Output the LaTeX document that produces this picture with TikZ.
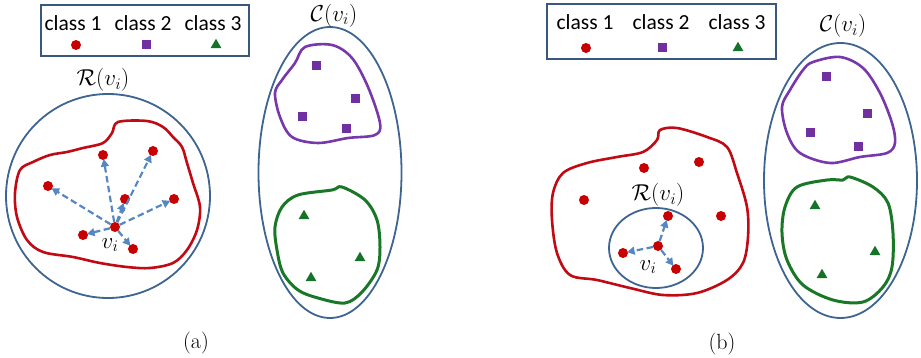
\RequirePackage{fix-cm}
\documentclass[tikz,border=0pt]{standalone}
\usepackage{fontspec}
\newfontfamily\legfont{Carlito}
\usetikzlibrary{shapes.geometric,arrows.meta}
\definecolor{outline}{RGB}{62,100,145}
\definecolor{legblue}{RGB}{58,88,125}
\definecolor{blobred}{RGB}{192,10,20}
\definecolor{dotred}{RGB}{200,0,0}
\definecolor{blobpurple}{RGB}{120,55,170}
\definecolor{sqpurple}{RGB}{112,48,160}
\definecolor{blobgreen}{RGB}{25,120,40}
\definecolor{trigreen}{RGB}{20,115,40}
\definecolor{arrowblue}{RGB}{85,135,195}
\tikzset{
  region/.style={draw=outline, line width=1.8pt},
  redline/.style={draw=blobred, line width=2.6pt, line join=round},
  purpleline/.style={draw=blobpurple, line width=2.6pt, line join=round},
  greenline/.style={draw=blobgreen, line width=3pt, line join=round},
  dot/.style={circle, fill=dotred, inner sep=0pt, minimum size=10pt},
  sq/.style={rectangle, fill=sqpurple, inner sep=0pt, minimum size=9pt},
  tri/.style={regular polygon, regular polygon sides=3, fill=trigreen, inner sep=0pt, minimum size=12.5pt},
  arr/.style={draw=arrowblue, line width=2.2pt, dash pattern=on 6.5pt off 3.5pt,
    -{Triangle[length=7.5pt,width=8pt]}, shorten >=-1pt},
  legbox/.style={draw=legblue, line width=2.5pt, rectangle, inner sep=0pt},
  legtext/.style={font=\legfont\fontsize{21.5}{25}\selectfont, inner sep=0pt},
  mathlab/.style={font=\fontsize{23}{27}\selectfont, inner sep=0pt},
  caplab/.style={font=\fontsize{22}{26}\selectfont, inner sep=0pt},
}
\begin{document}
\begin{tikzpicture}[x=1pt,y=-1pt]
\useasboundingbox (0,0) rectangle (921,358);

% ---------------- panel (a) ----------------
% legend
\node[legbox, minimum width=208pt, minimum height=51pt] (legA) at (145,30.5) {};
\node[legtext] (la1) at (73,23) {class 1};
\node[legtext] (la2) at (143,23) {class 2};
\node[legtext] (la3) at (213,23) {class 3};
\node[dot] (ma1) at (76,45) {};
\node[sq] (ma2) at (146,45) {};
\node[tri] (ma3) at (216,45) {};

% neighbourhood R(v_i)
\draw[region] (108,196) circle [radius=102];
\node[mathlab] (RA) at (103,80) {$\mathcal{R}(v_i)$};

% class-1 region
\draw[redline] plot[smooth cycle, tension=0.55] coordinates {
  (118,122) (147,121) (163,127) (173,137) (182,147) (187,163) (193,183)
  (200,207) (197,230) (187,250) (173,263) (150,268) (127,267) (100,263)
  (73,257) (43,252) (27,240) (17,217) (15,193) (20,170) (33,162) (50,155)
  (67,152) (83,148) (103,143) (112,133)};

\node[dot] (va) at (115,227) {};
\node[dot] (a1) at (103,155) {};
\node[dot] (a2) at (153,151) {};
\node[dot] (a3) at (48,186) {};
\node[dot] (a4) at (125,199) {};
\node[dot] (a5) at (174,199) {};
\node[dot] (a6) at (83,235) {};
\node[dot] (a7) at (133,249) {};
\foreach \t in {a1,a2,a3,a4,a5,a6,a7} \draw[arr] (va) -- (\t);
\node[mathlab] (viA) at (110,245) {$v_i$};

% candidate set C(v_i)
\draw[region] (330,172.5) ellipse [x radius=71.5, y radius=145.5];
\node[mathlab] (CA) at (334,15.5) {$\mathcal{C}(v_i)$};
\draw[purpleline] plot[smooth cycle, tension=0.55] coordinates {
  (305,47) (332,45) (352,58) (368,87) (380,123) (375,135) (348,138)
  (318,143) (292,137) (280,117) (275,93) (282,80) (295,63)};
\node[sq] (sa1) at (316,66) {};
\node[sq] (sa2) at (355,99) {};
\node[sq] (sa3) at (302,117) {};
\node[sq] (sa4) at (346,129) {};
\draw[greenline] plot[smooth cycle, tension=0.55] coordinates {
  (298,195) (332,190) (342,187) (365,200) (377,220) (380,247) (377,270)
  (362,292) (345,303) (318,298) (298,290) (283,273) (277,250) (275,227) (282,207)};
\node[tri] (ta1) at (304,216) {};
\node[tri] (ta2) at (360,258) {};
\node[tri] (ta3) at (311,278) {};

\node[caplab] (capA) at (196,343) {(a)};

% ---------------- panel (b) ----------------
\node[legbox, minimum width=229pt, minimum height=55pt] (legB) at (661.5,31.5) {};
\node[legtext] (lb1) at (585,22) {class 1};
\node[legtext] (lb2) at (661,22) {class 2};
\node[legtext] (lb3) at (737,22) {class 3};
\node[dot] (mb1) at (586,48) {};
\node[sq] (mb2) at (662,48) {};
\node[tri] (mb3) at (738,48) {};

% class-1 region
\draw[redline] plot[smooth cycle, tension=0.55] coordinates {
  (660,130) (677,128) (707,137) (727,147) (737,173) (747,207) (748,237)
  (743,263) (727,280) (697,293) (663,295) (630,288) (597,280) (570,275)
  (557,253) (552,220) (553,193) (563,173) (587,163) (617,157) (643,152) (657,140)};
\node[dot] (b1) at (644,168) {};
\node[dot] (b2) at (699,162) {};
\node[dot] (b3) at (584,200) {};
\node[dot] (b4) at (721,216) {};

% small neighbourhood R(v_i)
\draw[region] (656,248) ellipse [x radius=47, y radius=40];
\node[mathlab] (RB) at (658,195) {$\mathcal{R}(v_i)$};
\node[dot] (vb) at (658,246) {};
\node[dot] (b5) at (668,216) {};
\node[dot] (b6) at (623,253) {};
\node[dot] (b7) at (676,269) {};
\foreach \t in {b5,b6,b7} \draw[arr] (vb) -- (\t);
\node[mathlab] (viB) at (648,267) {$v_i$};

% candidate set C(v_i)
\draw[region] (840.5,180.5) ellipse [x radius=76.5, y radius=137.5];
\node[mathlab] (CB) at (843,26) {$\mathcal{C}(v_i)$};
\draw[purpleline] plot[smooth cycle, tension=0.55] coordinates {
  (813,62) (840,57) (863,68) (880,93) (892,123) (895,143) (887,153)
  (860,157) (830,163) (800,153) (787,133) (782,107) (790,90) (803,70)};
\node[sq] (sb1) at (826,77) {};
\node[sq] (sb2) at (867,114) {};
\node[sq] (sb3) at (810,133) {};
\node[sq] (sb4) at (858,147) {};
\draw[greenline] plot[smooth cycle, tension=0.55] coordinates {
  (797,187) (827,180) (843,180) (850,177) (873,187) (888,203) (893,233)
  (892,267) (883,287) (863,302) (833,300) (803,285) (787,260) (782,233) (785,207)};
\node[tri] (tb1) at (815,206) {};
\node[tri] (tb2) at (875,252) {};
\node[tri] (tb3) at (822,275) {};

\node[caplab] (capB) at (722,344) {(b)};
\end{tikzpicture}
\end{document}
